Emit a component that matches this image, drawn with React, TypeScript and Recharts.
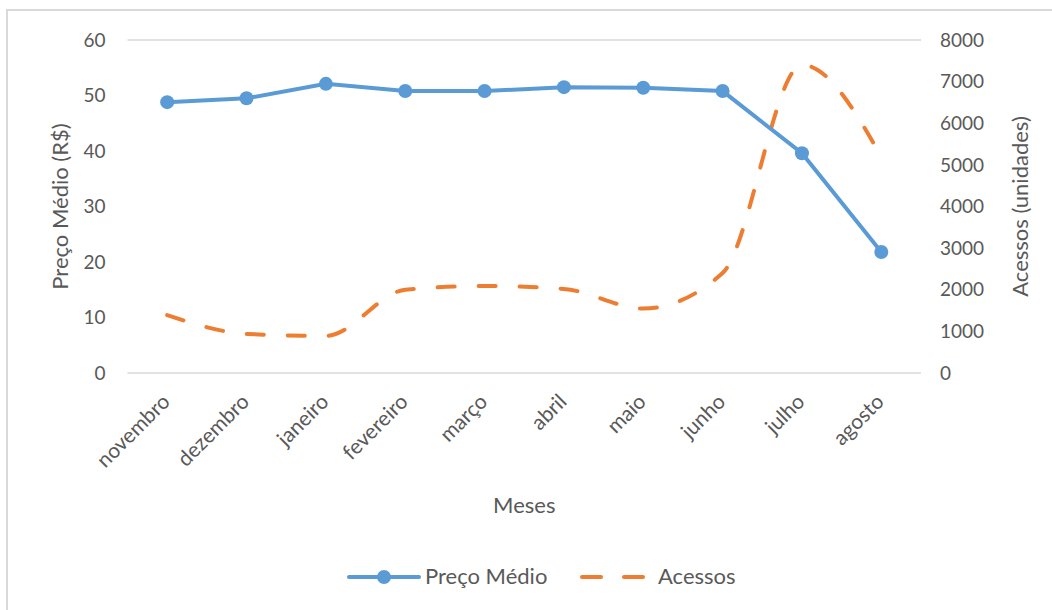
import React from 'react';
import {
    LineChart,
    Line,
    XAxis,
    YAxis,
    CartesianGrid,
    Legend,
} from 'recharts';

const months = ['novembro', 'dezembro', 'janeiro', 'fevereiro', 'março', 'abril', 'maio', 'junho', 'julho', 'agosto'];
const precoMedio = [48.8, 49.5, 52.1, 50.8, 50.8, 51.5, 51.4, 50.8, 39.6, 21.8];
const acessos = [1390, 940, 890, 2000, 2090, 2020, 1550, 2400, 7400, 5200];
const leftTicks = [0, 10, 20, 30, 40, 50, 60];
const rightTicks = [0, 1000, 2000, 3000, 4000, 5000, 6000, 7000, 8000];

const data = months.map((m, i) => ({ mes: m, preco: precoMedio[i], acessos: acessos[i] }));

const FONT = 'Lato, "Open Sans", sans-serif';
const TEXT = '#595959';
const BLUE = '#5b9bd5';
const ORANGE = '#ed7d31';

const MonthTick = ({ x, y, payload }: any) => {
    const ax = x + 4;
    const ay = y + 22;
    return (
        <text
            x={ax}
            y={ay}
            textAnchor="end"
            fill={TEXT}
            fontSize={21}
            fontFamily={FONT}
            transform={`rotate(-45, ${ax}, ${ay})`}
        >
            {payload.value}
        </text>
    );
};

const LegendContent = () => (
    <svg width={1052} height={30}>
        <g fontFamily={FONT} fontSize={22} fill={TEXT}>
            <line x1={349} y1={15} x2={419} y2={15} stroke={BLUE} strokeWidth={4} strokeLinecap="round" />
            <circle cx={384} cy={15} r={7} fill={BLUE} />
            <text x={425} y={22}>Preço Médio</text>
            <line x1={582} y1={15} x2={601} y2={15} stroke={ORANGE} strokeWidth={4} strokeLinecap="round" />
            <line x1={624} y1={15} x2={643} y2={15} stroke={ORANGE} strokeWidth={4} strokeLinecap="round" />
            <text x={658} y={22}>Acessos</text>
        </g>
    </svg>
);

export default function App() {
    return (
        <div style={{ position: 'absolute', left: 0, top: 0, width: 1052, height: 610, overflow: 'hidden', background: '#fff' }}>
            <div style={{ position: 'absolute', left: 6, top: 9, width: 1080, height: 640, border: '2px solid #d9d9d9' }} />
            <div style={{ position: 'absolute', left: 0, top: 0 }}>
                <LineChart
                    width={1052}
                    height={610}
                    data={data}
                    margin={{ top: 40, right: 0, bottom: 18, left: 0 }}
                >
                    <CartesianGrid vertical={false} stroke="#d9d9d9" strokeWidth={1.5} />
                    <XAxis
                        dataKey="mes"
                        axisLine={false}
                        tickLine={false}
                        interval={0}
                        height={189}
                        padding={{ left: 39.7, right: 39.7 }}
                        tick={<MonthTick />}
                        label={{ value: 'Meses', position: 'insideTop', offset: 124, fill: TEXT, fontSize: 22, fontFamily: FONT }}
                    />
                    <YAxis
                        yAxisId="left"
                        domain={[0, 60]}
                        ticks={leftTicks}
                        width={127.5}
                        axisLine={false}
                        tickLine={false}
                        tickMargin={16}
                        tick={{ fill: TEXT, fontSize: 19, fontFamily: FONT }}
                        label={{ value: 'Preço Médio (R$)', angle: -90, position: 'insideLeft', offset: 60, style: { textAnchor: 'middle' }, fill: TEXT, fontSize: 22, fontFamily: FONT }}
                    />
                    <YAxis
                        yAxisId="right"
                        orientation="right"
                        domain={[0, 8000]}
                        ticks={rightTicks}
                        width={131}
                        axisLine={false}
                        tickLine={false}
                        tickMargin={13}
                        tick={{ fill: TEXT, fontSize: 19, fontFamily: FONT, textAnchor: 'start' }}
                        label={{ value: 'Acessos (unidades)', angle: -90, position: 'insideRight', offset: 32, style: { textAnchor: 'middle' }, fill: TEXT, fontSize: 22, fontFamily: FONT }}
                    />
                    <Legend verticalAlign="bottom" height={30} content={<LegendContent />} />
                    <Line
                        yAxisId="right"
                        type="monotone"
                        dataKey="acessos"
                        name="Acessos"
                        stroke={ORANGE}
                        strokeWidth={4}
                        strokeDasharray="17 24"
                        strokeLinecap="round"
                        dot={false}
                        activeDot={false}
                        isAnimationActive={false}
                    />
                    <Line
                        yAxisId="left"
                        type="linear"
                        dataKey="preco"
                        name="Preço Médio"
                        stroke={BLUE}
                        strokeWidth={4}
                        dot={{ r: 7, fill: BLUE, stroke: BLUE, strokeWidth: 0 }}
                        activeDot={false}
                        isAnimationActive={false}
                    />
                </LineChart>
            </div>
        </div>
    );
}
